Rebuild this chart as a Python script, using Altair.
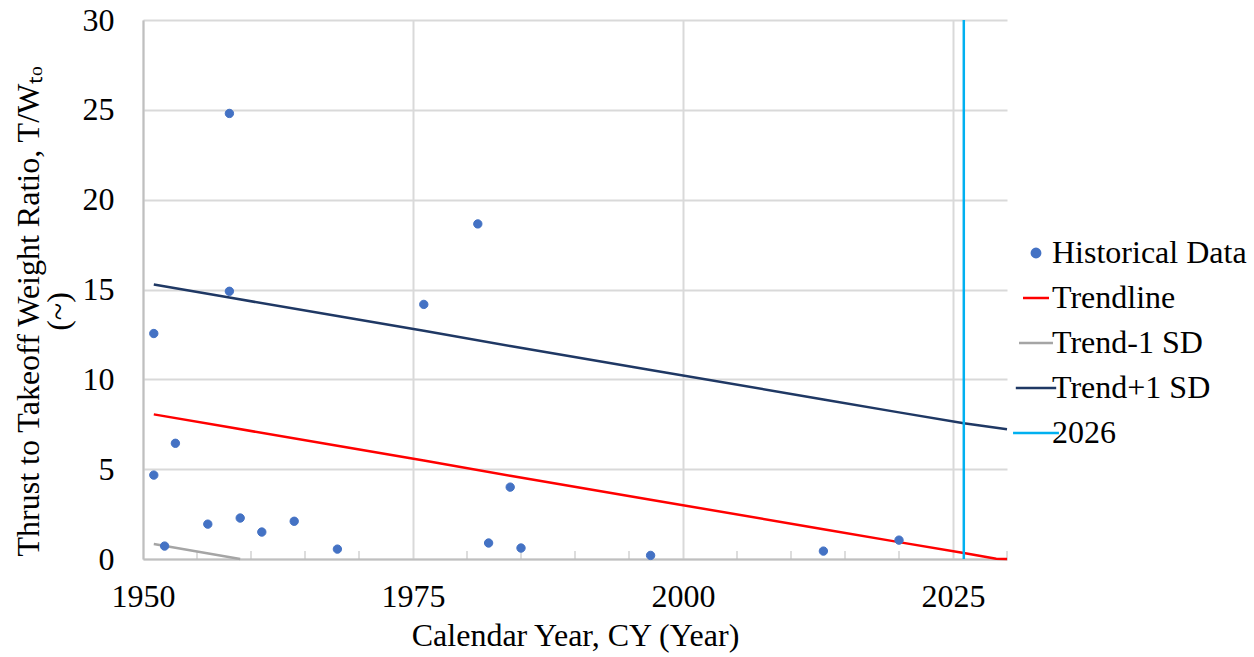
import altair as alt
import pandas as pd

# Historical data (year, T/W ratio)
hist_year = [1951, 1951, 1952, 1953, 1956, 1958, 1958, 1959, 1961, 1964, 1968,
             1976, 1981, 1982, 1984, 1985, 1997, 2013, 2020]
hist_ratio = [12.55, 4.67, 0.72, 6.44, 1.94, 24.8, 14.9, 2.28, 1.5, 2.1, 0.55,
              14.17, 18.65, 0.89, 4.0, 0.61, 0.2, 0.44, 1.05]

trend_year = [1951, 1958, 1968, 1976, 1984, 1997, 2013, 2020, 2026, 2029, 2030]
trend_val = [8.05, 7.33, 6.30, 5.48, 4.63, 3.30, 1.66, 0.94, 0.33, 0.02, 0.0]

minus_year = [1951, 1955, 1959]
minus_val = [0.83, 0.42, 0.0]

plus_year = [1951, 1958, 1968, 1976, 1984, 1997, 2013, 2020, 2026, 2030]
plus_val = [15.28, 14.55, 13.52, 12.70, 11.85, 10.52, 8.88, 8.16, 7.55, 7.22]

mark_year = [2026]

minor_ticks = [1955, 1960, 1965, 1970, 1980, 1985, 1990, 1995, 2005, 2010,
               2015, 2020, 2030]

series_domain = ["Historical Data", "Trendline", "Trend-1 SD", "Trend+1 SD", "2026"]
series_colors = ["#4472c4", "#ff0000", "#a5a5a5", "#1f3864", "#00b0f0"]

FONT = "Liberation Serif"

pts = pd.DataFrame({"year": hist_year, "ratio": hist_ratio, "series": "Historical Data"})
lines = pd.concat([
    pd.DataFrame({"year": trend_year, "ratio": trend_val, "series": "Trendline"}),
    pd.DataFrame({"year": minus_year, "ratio": minus_val, "series": "Trend-1 SD"}),
    pd.DataFrame({"year": plus_year, "ratio": plus_val, "series": "Trend+1 SD"}),
])
rule_df = pd.DataFrame({"year": mark_year, "series": "2026"})
ticks_df = pd.DataFrame({"year": minor_ticks, "ratio": [0] * len(minor_ticks)})

color_scale = alt.Scale(domain=series_domain, range=series_colors)

legend_cfg = alt.Legend(title=None, orient="none", legendX=877, legendY=217,
                        labelFont=FONT, labelFontSize=32, labelColor="black",
                        labelLimit=0, rowPadding=13, labelOffset=0,
                        symbolStrokeWidth=2.5)

x_enc = alt.X("year:Q", scale=alt.Scale(domain=[1950, 2030], nice=False, zero=False),
              axis=alt.Axis(values=[1950, 1975, 2000, 2025], format="d",
                            title="Calendar Year, CY (Year)", ticks=False,
                            labelFlush=False, labelPadding=22, titlePadding=8))
y_enc = alt.Y("ratio:Q", scale=alt.Scale(domain=[0, 30], nice=False),
              axis=alt.Axis(values=[0, 5, 10, 15, 20, 25, 30], ticks=False,
                            labelFlush=False, labelPadding=29,
                            title=["Thrust to Takeoff Weight Ratio, T/Wₜₒ", "(~)"],
                            titlePadding=7, titleY=291, titleLineHeight=30))

base_lines = alt.Chart(lines).mark_line(strokeWidth=2.5).encode(
    x=x_enc, y=y_enc,
    color=alt.Color("series:N", scale=color_scale, legend=legend_cfg),
    detail="series:N",
)

rule = alt.Chart(rule_df).mark_rule(strokeWidth=2.5).encode(
    x=alt.X("year:Q"),
    color=alt.Color("series:N", scale=color_scale, legend=legend_cfg),
)

minor = alt.Chart(ticks_df).mark_tick(orient="vertical", size=8, thickness=1.5,
                                      color="#bfbfbf", yOffset=-4).encode(
    x="year:Q", y="ratio:Q")

LINE_PATH = "M-1.7,0H1.7"
points = alt.Chart(pts).mark_point(filled=True, opacity=1, strokeWidth=1).encode(
    x="year:Q", y="ratio:Q",
    color=alt.Color("series:N", scale=color_scale, legend=legend_cfg),
    stroke=alt.Stroke("series:N", scale=color_scale, legend=legend_cfg),
    shape=alt.Shape("series:N", scale=alt.Scale(domain=series_domain,
                    range=["circle", LINE_PATH, LINE_PATH, LINE_PATH, LINE_PATH]),
                    legend=legend_cfg),
    size=alt.Size("series:N", scale=alt.Scale(domain=series_domain,
                  range=[70, 729, 729, 729, 729]), legend=legend_cfg),
)

chart = alt.layer(minor, base_lines, rule, points).properties(
    width=864, height=539,
    autosize=alt.AutoSizeParams(type="none"),
    padding={"left": 143, "top": 20, "right": 247, "bottom": 98},
).configure_view(stroke=None).configure_axis(
    labelFont=FONT, titleFont=FONT, labelFontSize=32, titleFontSize=32,
    labelColor="black", titleColor="black", titleFontWeight="normal",
    gridColor="#d9d9d9", gridWidth=2, domainColor="#bfbfbf", domainWidth=2,
).configure_legend(labelFont=FONT)

chart.save("out.html", embed_options={"renderer": "svg", "actions": False})
